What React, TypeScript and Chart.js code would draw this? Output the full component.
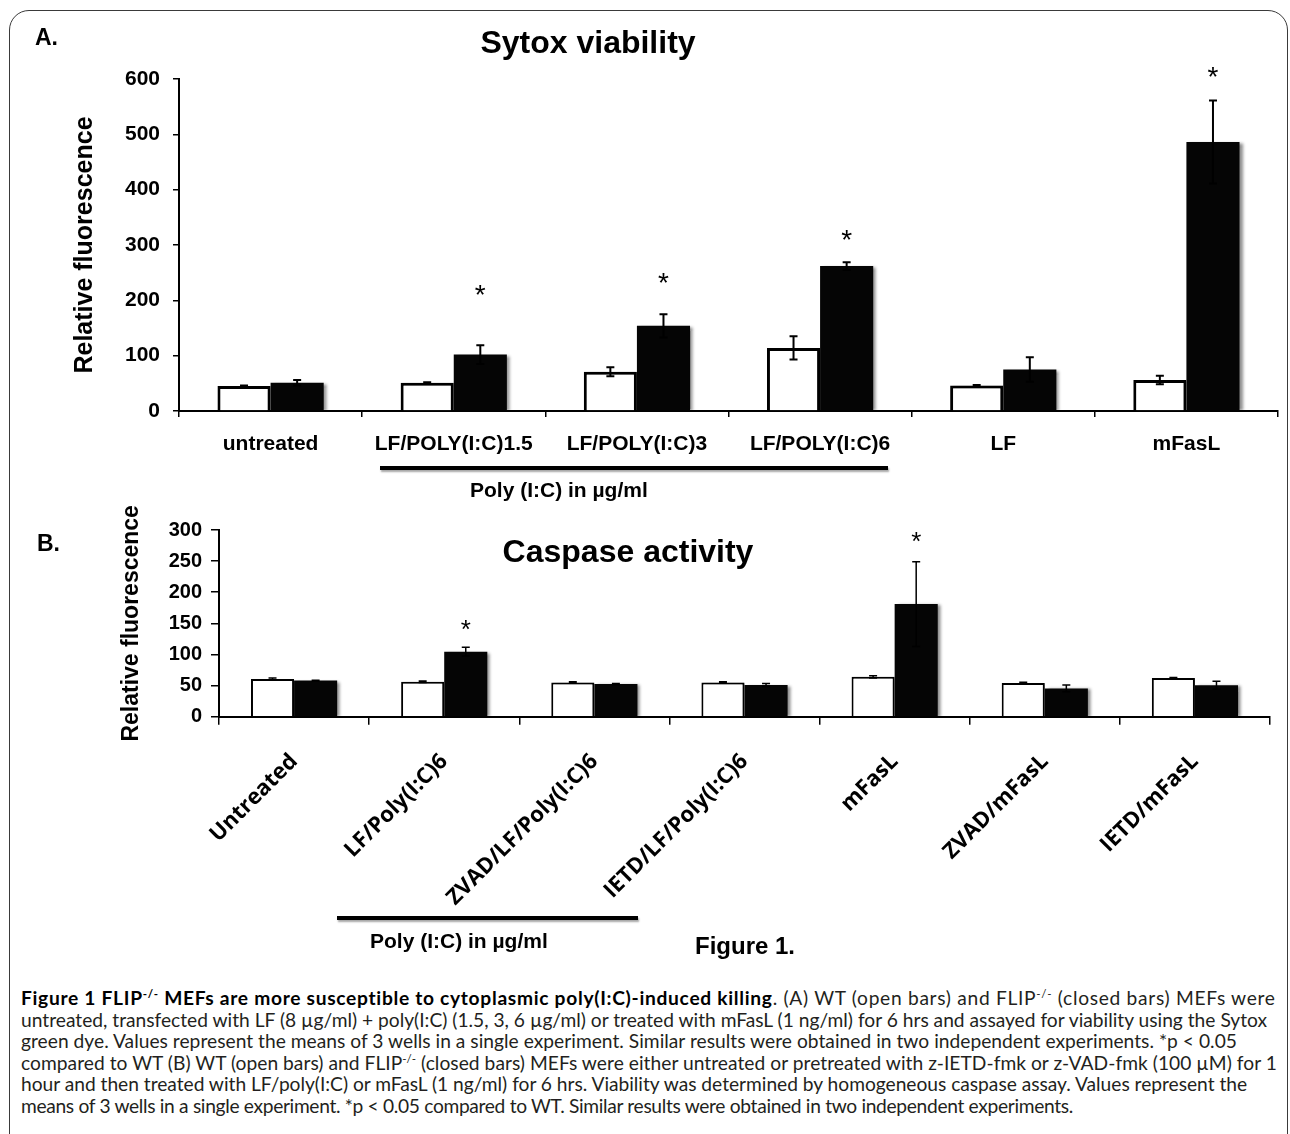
import React, { useEffect, useRef } from "react";
import { Chart, registerables } from "chart.js";

Chart.register(...registerables);

const SANS = "'Liberation Sans', Arial, Helvetica, sans-serif";
const OPEN = "'Open Sans', 'Liberation Sans', sans-serif";
const CAPTION_FONT = "Lato, 'Open Sans', sans-serif";

// ---------- Panel A: Sytox viability ----------
const categoriesA = ["untreated", "LF/POLY(I:C)1.5", "LF/POLY(I:C)3", "LF/POLY(I:C)6", "LF", "mFasL"];
const wtA = [45, 51, 71, 114, 46, 56];
const koA = [51, 102, 154, 262, 75, 486];
const wtErrA = [1, 1, 8, 21, 1, 7.5];
const koErrA = [5, 17, 21, 7, 22, 75];
const starsA = [null, 222, 244, 322, null, 616];
const yTicksA = [0, 100, 200, 300, 400, 500, 600];

// ---------- Panel B: Caspase activity ----------
const categoriesB = [
  "Untreated",
  "LF/Poly(I:C)6",
  "ZVAD/LF/Poly(I:C)6",
  "IETD/LF/Poly(I:C)6",
  "mFasL",
  "ZVAD/mFasL",
  "IETD/mFasL",
];
const wtB = [60.5, 56, 55, 55, 64, 54, 62];
const koB = [58, 104.5, 52.5, 51, 181, 45.5, 50.5];
const wtErrB = [1.5, 1.2, 1, 1, 2, 1.5, 1];
const koErrB = [0.5, 7, 1, 2.5, 68, 5.5, 6.5];
const starsB = [null, 151, null, null, 292, null, null];
const yTicksB = [0, 50, 100, 150, 200, 250, 300];

// caption line widths measured on the reference (px)
const captionWidths = [1255, 1246, 1216, 1256, 1226, 1052];

const shadowPlugin = {
  id: "barShadow",
  beforeDatasetDraw(chart: any) {
    const ctx = chart.ctx;
    ctx.save();
    ctx.shadowColor = "rgba(0,0,0,0.45)";
    ctx.shadowOffsetX = 3;
    ctx.shadowOffsetY = 1;
    ctx.shadowBlur = 3;
  },
  afterDatasetDraw(chart: any) {
    chart.ctx.restore();
  },
};

function makeErrorPlugin(lineWidth: number, cap: number) {
  return {
    id: "errorBars",
    afterDatasetsDraw(chart: any) {
      const ctx = chart.ctx;
      const yScale = chart.scales.y;
      chart.data.datasets.forEach((ds: any, di: number) => {
        const meta = chart.getDatasetMeta(di);
        meta.data.forEach((bar: any, i: number) => {
          const v = ds.data[i];
          const e = ds.errors[i];
          const top = yScale.getPixelForValue(v + e);
          const bot = yScale.getPixelForValue(v - e);
          ctx.save();
          ctx.strokeStyle = "#000";
          ctx.lineWidth = lineWidth;
          ctx.beginPath();
          ctx.moveTo(bar.x, top);
          ctx.lineTo(bar.x, bot);
          ctx.moveTo(bar.x - cap, top);
          ctx.lineTo(bar.x + cap, top);
          ctx.moveTo(bar.x - cap, bot);
          ctx.lineTo(bar.x + cap, bot);
          ctx.stroke();
          ctx.restore();
        });
      });
    },
  };
}

function makeStarPlugin(datasetIndex: number, values: (number | null)[], size: number) {
  return {
    id: "stars",
    afterDatasetsDraw(chart: any) {
      const ctx = chart.ctx;
      const yScale = chart.scales.y;
      const meta = chart.getDatasetMeta(datasetIndex);
      ctx.save();
      ctx.fillStyle = "#000";
      ctx.font = `${size}px ${SANS}`;
      ctx.textAlign = "center";
      ctx.textBaseline = "alphabetic";
      values.forEach((v, i) => {
        if (v == null) return;
        const py = yScale.getPixelForValue(v);
        ctx.fillText("*", meta.data[i].x, py + size * 0.58);
      });
      ctx.restore();
    },
  };
}

export default function App() {
  const refA = useRef<HTMLCanvasElement>(null);
  const refB = useRef<HTMLCanvasElement>(null);
  const capRef = useRef<HTMLDivElement>(null);

  useEffect(() => {
    const chartA = new Chart(refA.current as HTMLCanvasElement, {
      type: "bar",
      data: {
        labels: categoriesA,
        datasets: [
          {
            label: "WT",
            data: wtA,
            errors: wtErrA,
            backgroundColor: "#ffffff",
            borderColor: "#000000",
            borderWidth: 3,
            borderSkipped: "bottom",
          } as any,
          {
            label: "FLIP-/-",
            data: koA,
            errors: koErrA,
            backgroundColor: "#050505",
            borderWidth: 0,
          } as any,
        ],
      },
      options: {
        responsive: false,
        animation: false,
        layout: { padding: { left: 60, top: 79, right: 12, bottom: 0 } },
        datasets: { bar: { categoryPercentage: 0.58, barPercentage: 1 } },
        plugins: { legend: { display: false }, tooltip: { enabled: false } },
        scales: {
          x: {
            grid: { drawOnChartArea: false, drawTicks: true, tickLength: 6, color: "#000", lineWidth: 1.5, offset: true },
            border: { color: "#000", width: 2 },
            ticks: {
              color: "#000",
              font: { family: SANS, size: 21, weight: "bold" },
              padding: 15,
              maxRotation: 0,
              minRotation: 0,
              autoSkip: false,
            },
            afterFit: (s: any) => {
              s.height = 89;
            },
          },
          y: {
            min: yTicksA[0],
            max: yTicksA[yTicksA.length - 1],
            ticks: {
              stepSize: yTicksA[1] - yTicksA[0],
              color: "#000",
              font: { family: SANS, size: 21, weight: "bold" },
              padding: 13,
            },
            grid: { drawOnChartArea: false, tickLength: 6, color: "#000", lineWidth: 1.5 },
            border: { color: "#000", width: 2 },
            title: {
              display: true,
              text: "Relative fluorescence",
              color: "#000",
              font: { family: SANS, size: 25, weight: "bold" },
              padding: { top: 10, bottom: 0 },
            },
            afterFit: (s: any) => {
              s.width = 119;
            },
          },
        },
      } as any,
      plugins: [shadowPlugin, makeErrorPlugin(2, 4), makeStarPlugin(1, starsA, 28)],
    });

    const chartB = new Chart(refB.current as HTMLCanvasElement, {
      type: "bar",
      data: {
        labels: categoriesB,
        datasets: [
          {
            label: "WT",
            data: wtB,
            errors: wtErrB,
            backgroundColor: "#ffffff",
            borderColor: "#000000",
            borderWidth: 2,
            borderSkipped: "bottom",
          } as any,
          {
            label: "FLIP-/-",
            data: koB,
            errors: koErrB,
            backgroundColor: "#050505",
            borderWidth: 0,
          } as any,
        ],
      },
      options: {
        responsive: false,
        animation: false,
        layout: { padding: { left: 110, top: 50, right: 20, bottom: 0 } },
        datasets: { bar: { categoryPercentage: 0.574, barPercentage: 1 } },
        plugins: { legend: { display: false }, tooltip: { enabled: false } },
        scales: {
          x: {
            grid: { drawOnChartArea: false, drawTicks: true, tickLength: 8, color: "#000", lineWidth: 1.5, offset: true },
            border: { color: "#000", width: 2 },
            ticks: {
              color: "#000",
              font: { family: OPEN, size: 22, weight: "bold" },
              padding: 24,
              maxRotation: 45,
              minRotation: 45,
              autoSkip: false,
            },
            afterFit: (s: any) => {
              s.height = 243.3;
            },
          },
          y: {
            min: yTicksB[0],
            max: yTicksB[yTicksB.length - 1],
            ticks: {
              stepSize: yTicksB[1] - yTicksB[0],
              color: "#000",
              font: { family: SANS, size: 20, weight: "bold" },
              padding: 9,
            },
            grid: { drawOnChartArea: false, tickLength: 8, color: "#000", lineWidth: 1.5 },
            border: { color: "#000", width: 2 },
            title: {
              display: true,
              text: "Relative fluorescence",
              color: "#000",
              font: { family: SANS, size: 23, weight: "bold" },
              padding: { top: 8, bottom: 0 },
            },
            afterFit: (s: any) => {
              s.width = 109;
            },
          },
        },
      } as any,
      plugins: [shadowPlugin, makeErrorPlugin(1.5, 4), makeStarPlugin(1, starsB, 26)],
    });

    // fit caption: font size from line 2, then per-line letter spacing to the reference widths
    const cap = capRef.current;
    if (cap) {
      const spans = Array.from(cap.querySelectorAll("span.capline")) as HTMLSpanElement[];
      if (spans.length === captionWidths.length) {
        const w2 = spans[1].getBoundingClientRect().width;
        if (w2 > 0) {
          const size = (17 * captionWidths[1]) / w2;
          cap.style.fontSize = size.toFixed(3) + "px";
        }
        spans.forEach((sp, i) => {
          const w = sp.getBoundingClientRect().width;
          const n = (sp.textContent || "").length;
          if (n > 0) sp.style.letterSpacing = ((captionWidths[i] - w) / n).toFixed(3) + "px";
        });
      }
    }

    return () => {
      chartA.destroy();
      chartB.destroy();
    };
  }, []);

  const abs = (s: React.CSSProperties): React.CSSProperties => ({ position: "absolute", ...s });
  const centered = (x: number, y: number, size: number, extra: React.CSSProperties = {}): React.CSSProperties => ({
    position: "absolute",
    left: x,
    top: y,
    transform: "translate(-50%, -50%)",
    fontFamily: SANS,
    fontWeight: "bold",
    fontSize: size,
    lineHeight: 1,
    whiteSpace: "nowrap",
    color: "#000",
    ...extra,
  });
  const supStyle: React.CSSProperties = { fontSize: "0.6em", lineHeight: 0 };
  const lineStyle: React.CSSProperties = { display: "inline-block" };

  return (
    <div
      style={{
        position: "absolute",
        left: 0,
        top: 0,
        width: 1290,
        height: 1134,
        overflow: "hidden",
        background: "#fff",
      }}
    >
      <div
        style={abs({
          left: 9,
          top: 10,
          width: 1279,
          height: 1200,
          border: "1.5px solid #3a3a3a",
          borderRadius: 20,
          boxSizing: "border-box",
        })}
      />
      <canvas ref={refA} width={1290} height={500} style={abs({ left: 0, top: 0, display: "block" })} />
      <canvas ref={refB} width={1290} height={480} style={abs({ left: 0, top: 480, display: "block" })} />

      <div style={{ ...centered(0, 37, 23), transform: "translateY(-50%)", left: 35 }}>A.</div>
      <div style={centered(588, 42, 32)}>Sytox viability</div>
      <div
        style={abs({
          left: 380,
          top: 466,
          width: 508,
          height: 4,
          background: "#000",
          boxShadow: "1px 2px 2px rgba(0,0,0,0.35)",
        })}
      />
      <div style={{ ...centered(0, 489, 21), transform: "translateY(-50%)", left: 470 }}>Poly (I:C) in µg/ml</div>

      <div style={{ ...centered(0, 543, 23), transform: "translateY(-50%)", left: 37 }}>B.</div>
      <div style={centered(628, 551, 32)}>Caspase activity</div>
      <div
        style={abs({
          left: 337,
          top: 916,
          width: 301,
          height: 4,
          background: "#000",
          boxShadow: "1px 2px 2px rgba(0,0,0,0.35)",
        })}
      />
      <div style={{ ...centered(0, 940, 21), transform: "translateY(-50%)", left: 370 }}>Poly (I:C) in µg/ml</div>
      <div style={{ ...centered(0, 946, 24), transform: "translateY(-50%)", left: 695 }}>Figure 1.</div>

      <div
        ref={capRef}
        style={abs({
          left: 21,
          top: 987,
          fontFamily: CAPTION_FONT,
          fontSize: 17,
          lineHeight: "21.6px",
          color: "#231f20",
          whiteSpace: "nowrap",
        })}
      >
        <div>
          <span className="capline" style={lineStyle}>
            <b style={{ color: "#000" }}>
              Figure 1 FLIP<sup style={supStyle}>-/-</sup> MEFs are more susceptible to cytoplasmic poly(I:C)-induced
              killing
            </b>
            . (A) WT (open bars) and FLIP<sup style={supStyle}>-/-</sup> (closed bars) MEFs were
          </span>
        </div>
        <div>
          <span className="capline" style={lineStyle}>
            untreated, transfected with LF (8 µg/ml) + poly(I:C) (1.5, 3, 6 µg/ml) or treated with mFasL (1 ng/ml) for 6
            hrs and assayed for viability using the Sytox
          </span>
        </div>
        <div>
          <span className="capline" style={lineStyle}>
            green dye. Values represent the means of 3 wells in a single experiment. Similar results were obtained in two
            independent experiments. *p &lt; 0.05
          </span>
        </div>
        <div>
          <span className="capline" style={lineStyle}>
            compared to WT (B) WT (open bars) and FLIP<sup style={supStyle}>-/-</sup> (closed bars) MEFs were either
            untreated or pretreated with z-IETD-fmk or z-VAD-fmk (100 µM) for 1
          </span>
        </div>
        <div>
          <span className="capline" style={lineStyle}>
            hour and then treated with LF/poly(I:C) or mFasL (1 ng/ml) for 6 hrs. Viability was determined by homogeneous
            caspase assay. Values represent the
          </span>
        </div>
        <div>
          <span className="capline" style={lineStyle}>
            means of 3 wells in a single experiment. *p &lt; 0.05 compared to WT. Similar results were obtained in two
            independent experiments.
          </span>
        </div>
      </div>
    </div>
  );
}
